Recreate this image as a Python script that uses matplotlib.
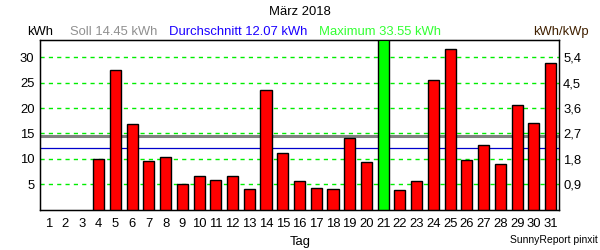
import matplotlib
matplotlib.use("Agg")
import matplotlib.pyplot as plt

plt.rcParams['font.family'] = ['Liberation Sans', 'DejaVu Sans']

days = list(range(1, 32))
values = [0, 0, 0, 9.9, 27.6, 16.8, 9.5, 10.3, 5.0, 6.6, 5.8, 6.6, 4.0, 23.5,
          11.1, 5.6, 4.2, 4.0, 14.05, 9.3, 33.55, 3.8, 5.6, 25.5, 31.6, 9.7,
          12.7, 8.9, 20.7, 17.0, 29.0]
soll = 14.45
avg = 12.07
maximum = 33.55
left_ticks = [5, 10, 15, 20, 25, 30]
right_labels = ["0,9", "1,8", "2,7", "3,6", "4,5", "5,4"]

fs = 9.4

fig = plt.figure(figsize=(6, 2.5), dpi=100)
ax = fig.add_axes([40/600, 1 - 209.5/250, (559-40)/600, (209.5-40.5)/250])

bx = [d for d, v in zip(days, values) if v > 0]
bv = [v for v in values if v > 0]
colors = ['#00ff00' if v == maximum else '#ff0000' for v in bv]
ax.bar(bx, bv, width=0.66, color=colors, edgecolor='black', linewidth=1.0, zorder=3)

ax.set_xlim(0.5, 31.5)
ax.set_ylim(0, 33.35)
ax.set_yticks(left_ticks)
ax.set_xticks(days)
ax.tick_params(axis='both', length=0, labelsize=fs, pad=4)
ax.tick_params(axis='x', pad=6)
for y in left_ticks:
    ax.axhline(y, color='#00ee00', linestyle=(0, (3, 3)), linewidth=1.0, zorder=1)
ax.axhline(soll, color='#808080', linewidth=2.2, zorder=2)
ax.axhline(avg, color='#0000cc', linewidth=0.9, zorder=2)
for s in ax.spines.values():
    s.set_color('black')
    s.set_linewidth(1.0)

ax2 = ax.twinx()
ax2.set_ylim(ax.get_ylim())
ax2.set_yticks(left_ticks)
ax2.set_yticklabels(right_labels)
ax2.tick_params(axis='y', length=0, labelsize=fs, pad=3)

fig.text(300/600, 1 - 12/250, "März 2018", ha='center', va='center', fontsize=fs)
yh = 1 - 32/250
fig.text(27/600, yh, "kWh", ha='left', va='center', fontsize=fs, color='black')
fig.text(70/600, yh, "Soll 14.45 kWh", ha='left', va='center', fontsize=fs, color='#909090')
fig.text(169/600, yh, "Durchschnitt 12.07 kWh", ha='left', va='center', fontsize=fs, color='#1a00ff')
fig.text(319/600, yh, "Maximum 33.55 kWh", ha='left', va='center', fontsize=fs, color='#33ff33')
fig.text(589/600, yh, "kWh/kWp", ha='right', va='center', fontsize=fs, color='#402000')
fig.text(300/600, 1 - 242/250, "Tag", ha='center', va='center', fontsize=fs)
fig.text(598/600, 1 - 240/250, "SunnyReport pinxit", ha='right', va='center', fontsize=7.5)

fig.savefig("out.png", dpi=100)
